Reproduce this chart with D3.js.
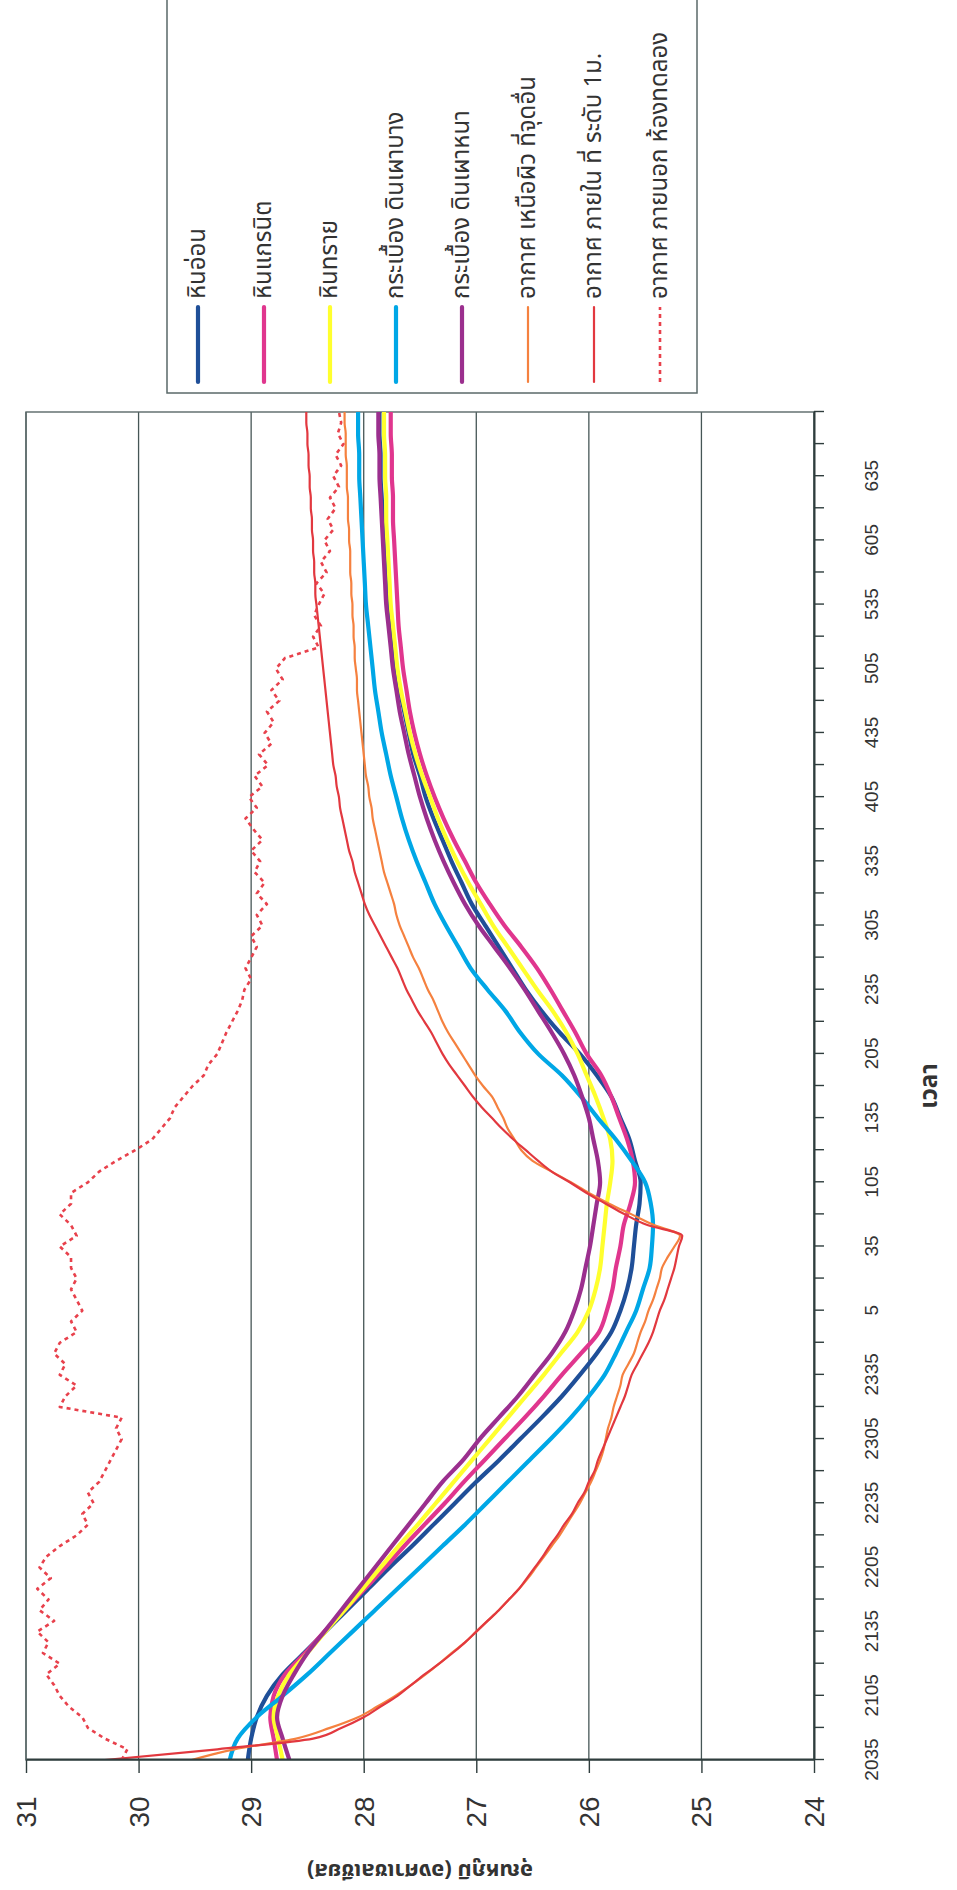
<!DOCTYPE html>
<html>
<head>
<meta charset="utf-8">
<script src="https://cdn.jsdelivr.net/npm/d3@7"></script>
<style>
  body { margin: 0; background: #fff; }
  svg { display: block; }
  .thai { font-family: "Noto Sans Thai", "Tahoma", "DejaVu Sans", "Noto Sans", sans-serif; }
</style>
</head>
<body>
<svg id="chart" width="957" height="1890"></svg>
<script>
// Time is counted in minutes from 20:35; readings every 10 min (surfaces) and every 5 min (air).
const timeCoarse = [0,10,20,30,40,50,60,70,80,90,100,110,120,130,140,150,160,170,180,190,200,210,220,230,240,250,260,270,280,290,300,310,320,330,340,350,360,370,380,390,400,410,420,430,440,450,460,470,480,490,500,510,520,530,540,550,560,570,580,590,600,610,620,630];
const timeFine = [0,5,10,15,20,25,30,35,40,45,50,55,60,65,70,75,80,85,90,95,100,105,110,115,120,125,130,135,140,145,150,155,160,165,170,175,180,185,190,195,200,205,210,215,220,225,230,235,240,245,250,255,260,265,270,275,280,285,290,295,300,305,310,315,320,325,330,335,340,345,350,355,360,365,370,375,380,385,390,395,400,405,410,415,420,425,430,435,440,445,450,455,460,465,470,475,480,485,490,495,500,505,510,515,520,525,530,535,540,545,550,555,560,565,570,575,580,585,590,595,600,605,610,615,620,625,630];

// Axis ticks
const timeTickMinutes = [0,15,30,45,60,75,90,105,120,135,150,165,180,195,210,225,240,255,270,285,300,315,330,345,360,375,390,405,420,435,450,465,480,495,510,525,540,555,570,585,600,615,630];
const timeLabelMinutes = [0,30,60,90,120,150,180,210,240,270,300,330,360,390,420,450,480,510,540,570,600];
const timeLabels = ["2035","2105","2135","2205","2235","2305","2335","5","35","105","135","205","235","305","335","405","435","505","535","605","635"];
const tempTicks = [24,25,26,27,28,29,30,31];

// Surface temperatures (°C) on timeCoarse
const marble = [29.03,29.0,28.95,28.86,28.72,28.53,28.34,28.15,27.96,27.77,27.57,27.38,27.19,27.0,26.8,26.61,26.42,26.24,26.08,25.93,25.8,25.72,25.66,25.62,25.6,25.58,25.55,25.54,25.59,25.64,25.72,25.8,25.93,26.08,26.26,26.42,26.56,26.68,26.8,26.92,27.04,27.13,27.22,27.3,27.38,27.45,27.5,27.56,27.6,27.64,27.68,27.71,27.74,27.76,27.78,27.8,27.81,27.82,27.83,27.84,27.85,27.85,27.86,27.86];
const granite = [28.77,28.8,28.83,28.8,28.7,28.52,28.35,28.17,27.99,27.81,27.64,27.46,27.28,27.11,26.93,26.75,26.57,26.4,26.24,26.07,25.91,25.84,25.79,25.76,25.72,25.69,25.63,25.59,25.61,25.66,25.73,25.8,25.89,26.02,26.12,26.23,26.34,26.46,26.6,26.75,26.88,27.0,27.1,27.2,27.29,27.37,27.44,27.5,27.55,27.59,27.62,27.65,27.67,27.69,27.7,27.71,27.72,27.73,27.74,27.74,27.75,27.75,27.76,27.76];
const sandstone = [28.72,28.76,28.8,28.76,28.66,28.5,28.34,28.17,28.01,27.85,27.69,27.52,27.36,27.2,27.04,26.88,26.72,26.56,26.4,26.25,26.1,26.0,25.94,25.9,25.88,25.86,25.84,25.81,25.79,25.81,25.87,25.94,26.02,26.1,26.2,26.32,26.46,26.59,26.72,26.85,26.96,27.07,27.17,27.26,27.34,27.41,27.48,27.54,27.59,27.63,27.67,27.7,27.72,27.74,27.76,27.77,27.78,27.79,27.8,27.8,27.81,27.81,27.82,27.82];
const thinTile = [29.19,29.12,28.95,28.72,28.5,28.3,28.1,27.9,27.7,27.5,27.3,27.1,26.91,26.72,26.53,26.34,26.16,26.0,25.86,25.76,25.67,25.58,25.52,25.46,25.44,25.43,25.45,25.5,25.62,25.76,25.92,26.07,26.24,26.45,26.61,26.74,26.9,27.05,27.16,27.27,27.37,27.45,27.53,27.6,27.66,27.71,27.76,27.8,27.84,27.87,27.9,27.92,27.94,27.96,27.98,27.99,28.0,28.01,28.02,28.03,28.04,28.04,28.05,28.05];
const thickTile = [28.66,28.72,28.77,28.72,28.62,28.5,28.35,28.2,28.05,27.9,27.75,27.6,27.45,27.3,27.12,26.97,26.8,26.63,26.48,26.33,26.21,26.13,26.07,26.03,25.99,25.96,25.93,25.9,25.92,25.96,26.0,26.06,26.13,26.22,26.33,26.45,26.57,26.7,26.84,26.98,27.1,27.2,27.29,27.37,27.44,27.5,27.55,27.6,27.64,27.68,27.71,27.74,27.76,27.78,27.8,27.81,27.82,27.83,27.84,27.85,27.86,27.86,27.87,27.87];

// Air temperatures (°C) on timeFine
const airAboveSurface = [29.53,29.15,28.6,28.3,28.05,27.88,27.72,27.58,27.45,27.33,27.22,27.1,27.0,26.9,26.8,26.71,26.62,26.54,26.47,26.4,26.33,26.26,26.2,26.14,26.08,26.03,25.98,25.94,25.9,25.87,25.85,25.83,25.8,25.78,25.75,25.72,25.7,25.65,25.6,25.57,25.54,25.5,25.47,25.43,25.4,25.37,25.35,25.3,25.24,25.19,25.42,25.62,25.82,26.0,26.16,26.33,26.5,26.6,26.66,26.72,26.76,26.81,26.86,26.94,27.01,27.07,27.13,27.19,27.25,27.3,27.34,27.38,27.43,27.47,27.51,27.56,27.6,27.64,27.68,27.71,27.73,27.76,27.79,27.82,27.84,27.86,27.88,27.9,27.92,27.93,27.95,27.96,27.98,27.99,28.0,28.01,28.02,28.03,28.04,28.05,28.06,28.06,28.07,28.08,28.08,28.09,28.09,28.1,28.1,28.11,28.11,28.12,28.12,28.12,28.13,28.13,28.14,28.14,28.14,28.15,28.15,28.15,28.16,28.16,28.16,28.17,28.17];
const airInside1m = [30.3,29.3,28.45,28.2,28.0,27.85,27.7,27.58,27.46,27.33,27.21,27.1,27.0,26.9,26.8,26.71,26.62,26.55,26.48,26.41,26.35,26.28,26.22,26.15,26.1,26.04,26.0,25.95,25.92,25.88,25.84,25.8,25.76,25.72,25.68,25.65,25.62,25.57,25.52,25.47,25.43,25.4,25.37,25.33,25.3,25.27,25.24,25.22,25.2,25.17,25.48,25.68,25.85,26.02,26.17,26.33,26.45,26.56,26.67,26.77,26.86,26.95,27.03,27.1,27.17,27.24,27.3,27.35,27.4,27.46,27.52,27.57,27.62,27.66,27.7,27.75,27.8,27.85,27.9,27.95,27.99,28.02,28.05,28.08,28.1,28.13,28.15,28.17,28.19,28.21,28.22,28.24,28.25,28.27,28.28,28.29,28.3,28.31,28.32,28.33,28.34,28.35,28.36,28.37,28.38,28.39,28.4,28.41,28.42,28.43,28.43,28.44,28.44,28.45,28.45,28.46,28.46,28.47,28.47,28.48,28.48,28.49,28.49,28.5,28.5,28.51,28.51];
const airOutside = [30.15,30.1,30.3,30.45,30.5,30.62,30.7,30.75,30.82,30.7,30.85,30.8,30.9,30.75,30.88,30.8,30.9,30.78,30.88,30.82,30.7,30.55,30.45,30.5,30.4,30.45,30.35,30.3,30.25,30.2,30.15,30.2,30.15,30.7,30.65,30.55,30.7,30.65,30.75,30.7,30.55,30.6,30.5,30.55,30.6,30.55,30.6,30.6,30.7,30.55,30.6,30.7,30.6,30.6,30.45,30.35,30.2,30.03,29.88,29.8,29.72,29.68,29.6,29.52,29.42,29.38,29.3,29.26,29.22,29.17,29.12,29.08,29.06,29.0,29.05,29.0,28.95,29.0,28.9,28.95,28.86,28.95,28.88,28.97,28.92,29.0,28.9,28.98,29.05,28.95,29.02,28.9,28.97,28.85,28.93,28.82,28.88,28.8,28.86,28.75,28.82,28.72,28.78,28.7,28.4,28.45,28.38,28.44,28.4,28.35,28.42,28.33,28.38,28.3,28.35,28.27,28.32,28.25,28.3,28.22,28.27,28.2,28.25,28.18,28.23,28.2,28.22];

const seriesNames = ["หินอ่อน","หินแกรนิต","หินทราย","กระเบื้อง ดินเผาบาง","กระเบื้อง ดินเผาหนา","อากาศ เหนือผิว ที่จุดอื่น","อากาศ ภายใน ที่ ระดับ 1ม.","อากาศ ภายนอก ห้องทดลอง"];
const seriesColors = ["#1f4f98","#e0368e","#ffff2e","#00a7e6","#9b2f8e","#f5813f","#e2383f","#e8414c"];

const series = [
  { name: seriesNames[0], color: seriesColors[0], t: timeCoarse, v: marble,          width: 4.2, dash: null },
  { name: seriesNames[1], color: seriesColors[1], t: timeCoarse, v: granite,         width: 4.2, dash: null },
  { name: seriesNames[2], color: seriesColors[2], t: timeCoarse, v: sandstone,       width: 4.2, dash: null },
  { name: seriesNames[3], color: seriesColors[3], t: timeCoarse, v: thinTile,        width: 4.2, dash: null },
  { name: seriesNames[4], color: seriesColors[4], t: timeCoarse, v: thickTile,       width: 4.2, dash: null },
  { name: seriesNames[5], color: seriesColors[5], t: timeFine,   v: airAboveSurface, width: 2.2, dash: null },
  { name: seriesNames[6], color: seriesColors[6], t: timeFine,   v: airInside1m,     width: 2.2, dash: null },
  { name: seriesNames[7], color: seriesColors[7], t: timeFine,   v: airOutside,      width: 2.6, dash: "4,4" }
];

const svg = d3.select("#chart");
svg.append("rect").attr("width", 957).attr("height", 1890).attr("fill", "#fff");

// Plot is laid out landscape (time along x, temperature along y) and turned a quarter turn.
const W = 1348, H = 788;
const x = d3.scaleLinear().domain([0, 630]).range([0, W]);
const y = d3.scaleLinear().domain([24, 31]).range([H, 0]);
const g = svg.append("g").attr("transform", "translate(26,1760) rotate(-90)");

// Gridlines
g.selectAll("line.grid").data(tempTicks).join("line")
  .attr("class", "grid")
  .attr("x1", 0).attr("x2", W)
  .attr("y1", d => y(d)).attr("y2", d => y(d))
  .attr("stroke", "#465656").attr("stroke-width", 1.3);

// Plot frame
g.append("rect").attr("x", 0).attr("y", 0).attr("width", W).attr("height", H)
  .attr("fill", "none").attr("stroke", "#5a6868").attr("stroke-width", 1.4);

// Series lines
const clip = g.append("clipPath").attr("id", "plotClip");
clip.append("rect").attr("x", 0).attr("y", -4).attr("width", W).attr("height", H + 8);
const lines = g.append("g").attr("clip-path", "url(#plotClip)");
series.forEach(s => {
  const pts = s.t.map((t, i) => [t, s.v[i]]);
  const gen = d3.line()
    .x(d => x(d[0])).y(d => y(d[1]))
    .curve(s.dash ? d3.curveLinear : d3.curveMonotoneX);
  lines.append("path")
    .datum(pts)
    .attr("d", gen)
    .attr("fill", "none")
    .attr("stroke", s.color)
    .attr("stroke-width", s.width)
    .attr("stroke-linejoin", "round")
    .attr("stroke-linecap", s.dash ? "butt" : "round")
    .attr("stroke-dasharray", s.dash);
});

// Time axis
const labelOf = new Map(timeLabelMinutes.map((m, i) => [m, timeLabels[i]]));
const xAxis = d3.axisBottom(x).tickValues(timeTickMinutes).tickSize(10).tickSizeOuter(0)
  .tickFormat(m => labelOf.get(m) || "");
const xg = g.append("g").attr("transform", `translate(0,${H})`).call(xAxis);
xg.select(".domain").attr("stroke", "#2f3d3d").attr("stroke-width", 2);
xg.selectAll(".tick line").attr("stroke", "#2f3d3d").attr("stroke-width", 1.4);
xg.selectAll(".tick text")
  .attr("y", 57).attr("dy", null)
  .attr("dominant-baseline", "central")
  .attr("font-family", "Liberation Sans, Arial, sans-serif")
  .attr("font-size", 19).attr("fill", "#333");

// Temperature axis
const yAxis = d3.axisLeft(y).tickValues(tempTicks).tickSize(13).tickSizeOuter(0).tickFormat(d3.format("d"));
const yg = g.append("g").call(yAxis);
yg.select(".domain").attr("stroke", "#2f3d3d").attr("stroke-width", 2);
yg.selectAll(".tick line").attr("stroke", "#2f3d3d").attr("stroke-width", 1.4);
yg.selectAll(".tick text")
  .attr("x", -52).attr("dy", null)
  .attr("text-anchor", "middle")
  .attr("dominant-baseline", "central")
  .attr("font-family", "Liberation Sans, Arial, sans-serif")
  .attr("font-size", 28).attr("fill", "#333");

// Axis titles
g.append("text").attr("class", "thai")
  .attr("transform", `translate(-110,${H / 2}) rotate(-90)`)
  .attr("text-anchor", "middle").attr("dominant-baseline", "central")
  .attr("font-size", 22).attr("font-weight", "bold").attr("fill", "#333")
  .text("อุณหภูมิ (องศาเซลเซียส)");
g.append("text").attr("class", "thai")
  .attr("transform", `translate(${W / 2},904)`)
  .attr("text-anchor", "middle").attr("dominant-baseline", "central")
  .attr("font-size", 24).attr("font-weight", "bold").attr("fill", "#333")
  .text("เวลา");

// Legend
const legend = svg.append("g");
legend.append("rect").attr("x", 167).attr("y", -6).attr("width", 530).attr("height", 399)
  .attr("fill", "#fff").attr("stroke", "#5a6868").attr("stroke-width", 1.5);
const items = legend.selectAll("g.item").data(series).join("g")
  .attr("class", "item")
  .attr("transform", (d, i) => `translate(${198 + i * 66},0)`);
items.append("line")
  .attr("x1", 0).attr("x2", 0).attr("y1", 382).attr("y2", 307)
  .attr("stroke", d => d.color)
  .attr("stroke-width", d => d.width)
  .attr("stroke-linecap", d => d.dash ? "butt" : "round")
  .attr("stroke-dasharray", d => d.dash);
items.append("text").attr("class", "thai")
  .attr("transform", "translate(0,299) rotate(-90)")
  .attr("text-anchor", "start").attr("dominant-baseline", "central")
  .attr("font-size", 24).attr("fill", "#333")
  .text(d => d.name);
</script>
</body>
</html>
